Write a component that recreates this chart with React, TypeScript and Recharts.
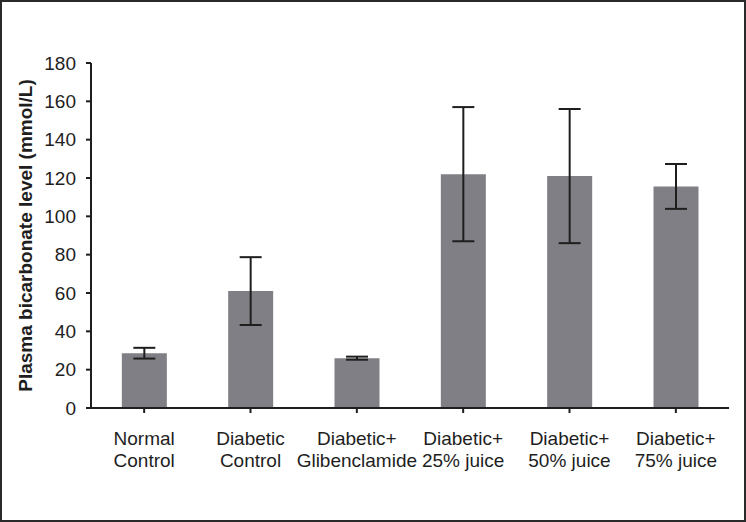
import { BarChart, Bar, XAxis, YAxis, ErrorBar, Label } from "recharts";

const categories = [
  "Normal\nControl",
  "Diabetic\nControl",
  "Diabetic+\nGlibenclamide",
  "Diabetic+\n25% juice",
  "Diabetic+\n50% juice",
  "Diabetic+\n75% juice",
];
const bicarbonate = [28.6, 61, 26, 122, 121, 115.6];
const errors = [2.8, 17.7, 0.8, 35, 35, 11.7];
const yTicks = [0, 20, 40, 60, 80, 100, 120, 140, 160, 180];

const FONT = "'Liberation Sans', Arial, sans-serif";
const INK = "#1e1e1e";

const data = categories.map((name, i) => ({
  name,
  value: bicarbonate[i],
  err: errors[i],
}));

function CategoryTick(props: any) {
  const { x, y, payload } = props;
  const lines = String(payload.value).split("\n");
  return (
    <text x={x} y={y + 30} textAnchor="middle" fontFamily={FONT} fontSize={19} fill={INK}>
      {lines.map((l, i) => (
        <tspan key={i} x={x} dy={i === 0 ? 0 : 22}>
          {l}
        </tspan>
      ))}
    </text>
  );
}

function AxisTitle(props: any) {
  const vb = props.viewBox || {};
  const cx = 25;
  const cy = (vb.y ?? 63) + (vb.height ?? 345) / 2;
  return (
    <text
      x={cx}
      y={cy}
      transform={`rotate(-90, ${cx}, ${cy})`}
      textAnchor="middle"
      dominantBaseline="central"
      fontFamily={FONT}
      fontSize={19}
      fontWeight="bold"
      fill={INK}
    >
      Plasma bicarbonate level (mmol/L)
    </text>
  );
}

export default function App() {
  return (
    <div
      style={{
        position: "absolute",
        left: 0,
        top: 0,
        width: 746,
        height: 522,
        boxSizing: "border-box",
        border: "2px solid #2a2a2a",
        background: "#fff",
      }}
    >
      <div style={{ position: "absolute", left: -2, top: -2 }}>
        <BarChart
          width={746}
          height={522}
          data={data}
          margin={{ top: 63, right: 17, bottom: 54, left: 8 }}
          barCategoryGap="29%"
        >
          <XAxis
            dataKey="name"
            height={60}
            tick={<CategoryTick />}
            tickSize={5}
            axisLine={{ stroke: INK, strokeWidth: 2 }}
            tickLine={{ stroke: INK, strokeWidth: 2 }}
            interval={0}
            scale="band"
          />
          <YAxis
            width={83}
            domain={[0, 180]}
            ticks={yTicks}
            tickSize={5}
            tickMargin={10}
            axisLine={{ stroke: INK, strokeWidth: 2 }}
            tickLine={{ stroke: INK, strokeWidth: 2 }}
            tick={{ fontFamily: FONT, fontSize: 19, fill: INK }}
          >
            <Label content={<AxisTitle />} />
          </YAxis>
          <Bar dataKey="value" fill="#807f85" isAnimationActive={false}>
            <ErrorBar dataKey="err" width={11} stroke={INK} strokeWidth={2} />
          </Bar>
        </BarChart>
      </div>
    </div>
  );
}
